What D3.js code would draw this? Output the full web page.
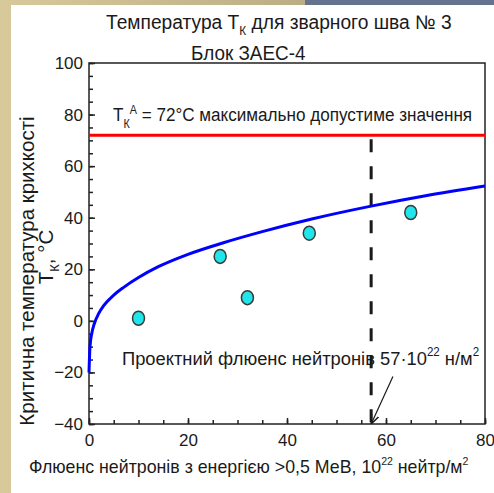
<!DOCTYPE html>
<html>
<head>
<meta charset="utf-8">
<script src="https://cdn.jsdelivr.net/npm/d3@7"></script>
<style>
  body { margin: 0; padding: 0; background: #fff; }
  svg { display: block; }
  text { font-family: "Liberation Sans", Arial, sans-serif; fill: #1a1a1a; }
</style>
</head>
<body>
<svg id="chart"></svg>
<script>
// data
var measFluence = [10, 26.5, 32, 44.5, 65];
var measTemp = [1, 25, 9, 34, 42];

// blue trend curve (estimated points)
var curveFluence = [0, 0.2, 0.6, 1, 2, 3, 5, 7, 10, 14, 20, 27, 35, 45, 57, 68, 80];
var curveTemp = [-20, -10, -4.5, -1.5, 3, 6, 10, 13, 16.8, 21, 25.8, 30.2, 34.6, 39.5, 44.5, 48.5, 52.3];

var limitTemp = 72;      // red line
var designFluence = 57;  // dashed line
var arrowFrom = [61.4, -21.6], arrowTo = [57, -40];

var xTicks = [0, 20, 40, 60, 80];
var xMinor = d3.range(0, 81, 5);
var yTicks = [-40, -20, 0, 20, 40, 60, 80, 100];
var yMinor = d3.range(-40, 101, 5);

var width = 494, height = 493;
var plot = {left: 89, right: 485, top: 63, bottom: 424};

var svg = d3.select("#chart").attr("width", width).attr("height", height);

// slide background
var defs = svg.append("defs");
var grad = defs.append("linearGradient").attr("id", "beige").attr("x1", 0).attr("x2", 1).attr("y1", 0).attr("y2", 0);
grad.append("stop").attr("offset", "0%").attr("stop-color", "#d8c99b");
grad.append("stop").attr("offset", "100%").attr("stop-color", "#a99d74");
svg.append("rect").attr("width", width).attr("height", height).attr("fill", "url(#beige)");
svg.append("rect").attr("x", 305).attr("y", 0).attr("width", width - 305).attr("height", 6).attr("fill", "#66738f");
svg.append("rect").attr("x", 11).attr("y", 5).attr("width", width - 11).attr("height", height - 5).attr("fill", "#fff");

var x = d3.scaleLinear().domain([0, 80]).range([plot.left, plot.right]);
var y = d3.scaleLinear().domain([-40, 100]).range([plot.bottom, plot.top]);

// minor ticks
svg.append("g")
  .attr("transform", "translate(0," + plot.bottom + ")")
  .call(d3.axisBottom(x).tickValues(xMinor).tickSize(-4).tickSizeOuter(0).tickFormat(""))
  .call(function(g) { g.select(".domain").remove(); })
  .selectAll("line").attr("stroke", "#222").attr("stroke-width", 1.5);
svg.append("g")
  .attr("transform", "translate(" + plot.left + ",0)")
  .call(d3.axisLeft(y).tickValues(yMinor).tickSize(-4).tickSizeOuter(0).tickFormat(""))
  .call(function(g) { g.select(".domain").remove(); })
  .selectAll("line").attr("stroke", "#222").attr("stroke-width", 1.5);

// major ticks + labels
var xAxis = svg.append("g")
  .attr("transform", "translate(0," + plot.bottom + ")")
  .call(d3.axisBottom(x).tickValues(xTicks).tickSize(-6).tickSizeOuter(0).tickPadding(10));
var yAxis = svg.append("g")
  .attr("transform", "translate(" + plot.left + ",0)")
  .call(d3.axisLeft(y).tickValues(yTicks).tickSize(-6).tickSizeOuter(0).tickPadding(6));
[xAxis, yAxis].forEach(function(a) {
  a.select(".domain").remove();
  a.selectAll("line").attr("stroke", "#222").attr("stroke-width", 1.5);
  a.selectAll("text").style("font-size", "17px").style("font-family", "Liberation Sans, Arial, sans-serif").attr("fill", "#1a1a1a");
});

// frame
svg.append("rect")
  .attr("x", plot.left).attr("y", plot.top)
  .attr("width", plot.right - plot.left).attr("height", plot.bottom - plot.top)
  .attr("fill", "none").attr("stroke", "#222").attr("stroke-width", 1.5);

// limit line
svg.append("line")
  .attr("x1", x(0)).attr("x2", x(80))
  .attr("y1", y(limitTemp)).attr("y2", y(limitTemp))
  .attr("stroke", "#ff0000").attr("stroke-width", 3);

// design fluence dashed line
svg.append("line")
  .attr("x1", x(designFluence)).attr("x2", x(designFluence))
  .attr("y1", y(limitTemp) + 4).attr("y2", y(-40))
  .attr("stroke", "#1a1a1a").attr("stroke-width", 3)
  .attr("stroke-dasharray", "13,14");

// curve
var curvePts = curveFluence.map(function(f, i) { return [f, curveTemp[i]]; });
svg.append("path")
  .datum(curvePts)
  .attr("fill", "none").attr("stroke", "#0000ff").attr("stroke-width", 3)
  .attr("d", d3.line().x(function(d) { return x(d[0]); }).y(function(d) { return y(d[1]); }).curve(d3.curveMonotoneX));

// measured points
svg.selectAll("ellipse.pt")
  .data(measFluence)
  .enter().append("ellipse")
  .attr("class", "pt")
  .attr("cx", function(d) { return x(d); })
  .attr("cy", function(d, i) { return y(measTemp[i]); })
  .attr("rx", 6).attr("ry", 7)
  .attr("fill", "#1ee6ea").attr("stroke", "#3a3a3a").attr("stroke-width", 1.5);

// arrow
defs.append("marker").attr("id", "arr")
  .attr("viewBox", "0 0 10 10").attr("refX", 10).attr("refY", 5)
  .attr("markerWidth", 8).attr("markerHeight", 8).attr("orient", "auto")
  .append("path").attr("d", "M0,1 L10,5 L0,9").attr("fill", "none").attr("stroke", "#1a1a1a").attr("stroke-width", 1.5);
svg.append("line")
  .attr("x1", x(arrowFrom[0])).attr("y1", y(arrowFrom[1]))
  .attr("x2", x(arrowTo[0])).attr("y2", y(arrowTo[1]))
  .attr("stroke", "#1a1a1a").attr("stroke-width", 1.2)
  .attr("marker-end", "url(#arr)");

// text helper: scale horizontally to fit the source picture
function label(xp, yp, size, sx) {
  return svg.append("text")
    .attr("transform", "translate(" + xp + "," + yp + ") scale(" + sx + ",1)")
    .style("font-size", size + "px");
}

// titles
var t1 = label(106, 29, 19.5, 0.985);
t1.append("tspan").text("Температура Т");
t1.append("tspan").attr("dy", 6).style("font-size", "12px").text("К");
t1.append("tspan").attr("dy", -6).text("  для зварного шва № 3");

label(191, 60, 19.5, 0.97).text("Блок ЗАЕС-4");

// limit label
var t3 = label(113, 121, 19, 0.9);
t3.append("tspan").text("Т");
t3.append("tspan").attr("dy", 7).style("font-size", "12px").text("К");
t3.append("tspan").attr("dy", -14).style("font-size", "12px").text("А");
t3.append("tspan").attr("dy", 7).text(" = 72°С максимально допустиме значення");

// design fluence label
var t4 = label(122, 365, 19, 0.965);
t4.append("tspan").text("Проектний флюенс нейтронів 57·10");
t4.append("tspan").attr("dy", -9).style("font-size", "12px").text("22");
t4.append("tspan").attr("dy", 9).text(" н/м");
t4.append("tspan").attr("dy", -9).style("font-size", "12px").text("2");

// x axis title
var t5 = label(29, 473, 18.5, 0.96);
t5.append("tspan").text("Флюенс нейтронів з енергією >0,5 МеВ, 10");
t5.append("tspan").attr("dy", -8).style("font-size", "11px").text("22");
t5.append("tspan").attr("dy", 8).text(" нейтр/м");
t5.append("tspan").attr("dy", -8).style("font-size", "11px").text("2");

// y axis title
svg.append("text")
  .attr("transform", "translate(34,271) rotate(-90)")
  .attr("text-anchor", "middle")
  .style("font-size", "20.5px")
  .text("Критична температура крихкості");
var t6 = svg.append("text")
  .attr("transform", "translate(53,257) rotate(-90)")
  .attr("text-anchor", "middle")
  .style("font-size", "20.5px");
t6.append("tspan").text("Т");
t6.append("tspan").attr("dy", 6).style("font-size", "13px").text("К");
t6.append("tspan").attr("dy", -6).text(", °С");
</script>
</body>
</html>
